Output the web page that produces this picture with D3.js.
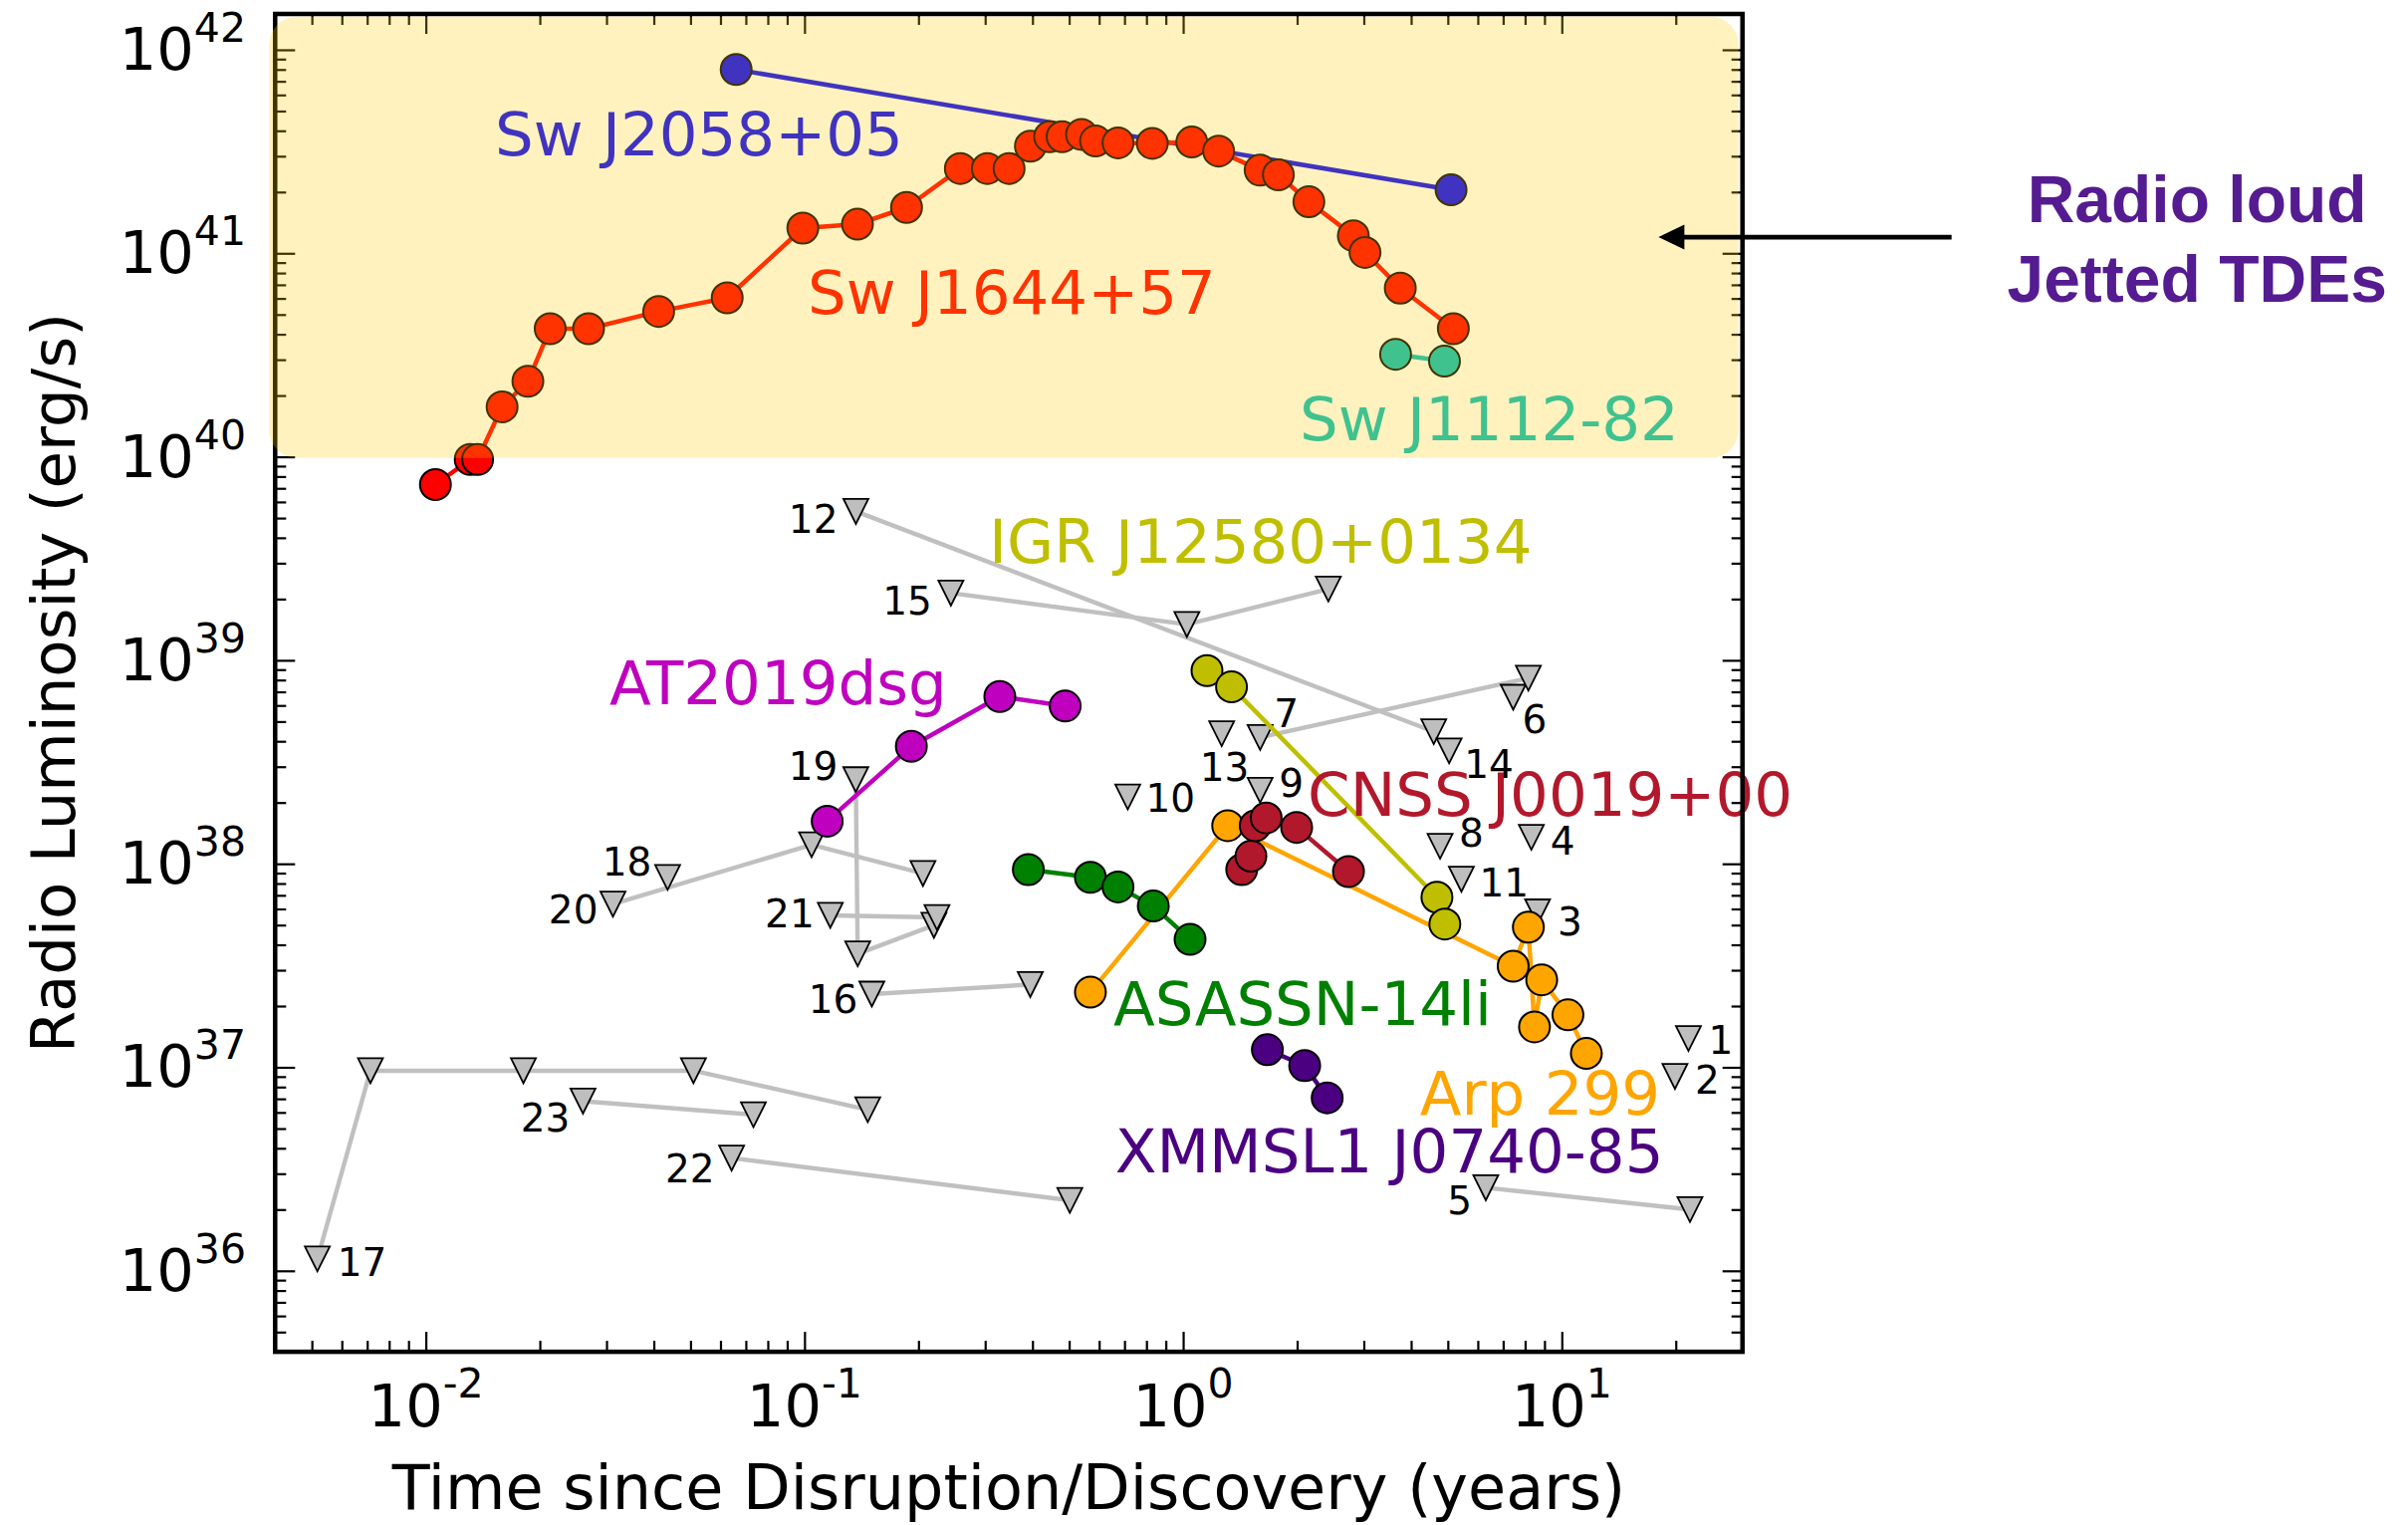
<!DOCTYPE html>
<html><head><meta charset="utf-8">
<script src="https://cdn.jsdelivr.net/npm/d3@7"></script>
<style>html,body{margin:0;padding:0;background:#fff;} svg{display:block;}</style>
</head><body>
<svg id="chart" width="2418" height="1531"></svg>
<script>
// ---------------- DATA ----------------
// Detected (radio-bright) TDEs: time since disruption (yr) and radio luminosity (erg/s)
const detNames = ["Sw J2058+05","Sw J1644+57","Sw J1112-82","Arp 299","ASASSN-14li","IGR J12580+0134","CNSS J0019+00","AT2019dsg","XMMSL1 J0740-85"];
const detTimes = [
  [0.066, 5.10],
  [0.0106,0.0131,0.0137,0.0159,0.0186,0.0213,0.0269,0.0412,0.0625,0.099,0.138,0.186,0.258,0.304,0.347,0.395,0.444,0.479,0.539,0.587,0.673,0.829,1.054,1.241,1.597,1.784,2.148,2.815,3.022,3.745,5.171],
  [3.64, 4.90],
  [0.569, 1.311, 7.44, 8.16, 8.47, 8.85, 10.38, 11.61],
  [0.390, 0.569, 0.673, 0.834, 1.043],
  [1.156, 1.342, 4.68, 4.91],
  [1.428, 1.510, 1.550, 1.657, 1.994, 2.733],
  [0.1148, 0.1915, 0.328, 0.488],
  [1.669, 2.094, 2.401]
];
const detLums = [
  [8.0e41, 2.05e41],
  [7.3e39,9.7e39,9.7e39,1.76e40,2.35e40,4.26e40,4.26e40,5.18e40,6.04e40,1.33e41,1.39e41,1.68e41,2.61e41,2.61e41,2.61e41,3.36e41,3.74e41,3.74e41,3.84e41,3.56e41,3.49e41,3.47e41,3.52e41,3.18e41,2.56e41,2.43e41,1.79e41,1.22e41,1.01e41,6.74e40,4.26e40],
  [3.19e40, 2.95e40],
  [2.34e37, 1.54e38, 3.14e37, 4.88e37, 1.58e37, 2.69e37, 1.81e37, 1.17e37],
  [9.37e37, 8.58e37, 7.70e37, 6.20e37, 4.25e37],
  [8.9e38, 7.4e38, 6.85e37, 5.06e37],
  [9.37e37, 1.09e38, 1.54e38, 1.68e38, 1.51e38, 9.16e37],
  [1.62e38, 3.78e38, 6.64e38, 5.96e38],
  [1.22e37, 1.02e37, 7.08e36]
];
// Upper limits (numbered sources)
const limitIds = ["1","2","3","4","5","6","7","8","9","10","11","12","13","14","15","16","17","18","19","20","21","22","23"];
const limitTimes = [
  [21.6],[19.9],[8.63],[8.31],[6.30,21.8],[7.44],[1.597,8.16],[4.77],[1.597],[0.714],[5.43],
  [0.1367,4.59],[1.264],[5.04],[0.2436,1.023,2.418],[0.1506,0.3947],
  [0.00517,0.00714,0.0181,0.0509,0.1469],[0.0435],[0.1366,0.1382,0.2197],
  [0.0312,0.1044,0.2055],[0.117,0.2238],[0.0642,0.502],[0.0260,0.0733]
];
const limitLums = [
  [1.385e37],[9.02e36],[5.8e37],[1.35e38],[2.56e36,2.0e36],[6.58e38],[4.18e38,8.17e38],[1.22e38],[2.30e38],[2.13e38],[8.40e37],
  [5.39e39,4.46e38],[4.36e38],[3.59e38],[2.14e39,1.50e39,2.24e39],[2.29e37,2.55e37],
  [1.145e36,9.62e36,9.62e36,9.62e36,6.19e36],[8.58e37],[2.59e38,3.61e37,4.99e37],
  [6.34e37,1.24e38,8.96e37],[5.58e37,5.45e37],[3.58e36,2.22e36],[6.82e36,5.85e36]
];
const xMajorExp = [-2,-1,0,1];
const yMajorExp = [36,37,38,39,40,41,42];
const xLabel = "Time since Disruption/Discovery (years)";
const yLabel = "Radio Luminosity (erg/s)";
const calloutLines = ["Radio loud","Jetted TDEs"];

// ---------------- STYLE / LAYOUT ----------------
const detColors = ["#0000ff","#ff0000","#00bfbf","#ffa500","#008000","#bfbf00","#b2182b","#bf00bf","#4b0082"];
// label anchors (data coordinates: time, luminosity), text-anchor start
const labelAnchorT = [0.01522, 0.1019, 2.031, 4.22, 0.6546, 0.307, 2.132, 0.03055, 0.6609];
const labelAnchorL = [3.03e41, 5.05e40, 1.21e40, 5.86e36, 1.61e37, 3.0e39, 1.72e38, 6.08e38, 3.05e36];
// number label offsets relative to first marker (px)
const numOffsets = {
  "1":[20,15,"start"],"2":[20,17,"start"],"3":[20,23,"start"],"4":[19,17,"start"],"5":[-14,27,"end"],
  "6":[9,36,"start"],"7":[14,-10,"start"],"8":[19,0,"start"],"9":[19,7,"start"],"10":[18,15,"start"],
  "11":[18,17,"start"],"12":[-18,22,"end"],"13":[-22,47,"start"],"14":[15,27,"start"],"15":[-19,22,"end"],
  "16":[-14,19,"end"],"17":[20,17,"start"],"18":[-16,-2,"end"],"19":[-18,0,"end"],"20":[-15,19,"end"],
  "21":[-16,12,"end"],"22":[-17,24,"end"],"23":[-13,31,"end"]
};
const FONT = "'DejaVu Sans', sans-serif";

const svg = d3.select("#chart");
const x = d3.scaleLog().domain([0.004, 30]).range([276.3, 1749.7]);
const y = d3.scaleLog().domain([4e35, 1.5e42]).range([1357.1, 14.0]);
const [xl, xr] = x.range(); const [yb, yt] = y.range();

svg.append("rect").attr("width",2418).attr("height",1531).attr("fill","#fff");

// ---------------- TICKS ----------------
function minorVals(scale){
  const [a,b] = scale.domain(); const out=[];
  for(let e=Math.floor(Math.log10(a)); e<=Math.ceil(Math.log10(b)); e++){
    for(let m=2;m<=9;m++){const v=m*Math.pow(10,e); if(v>=a*0.999 && v<=b*1.001) out.push(v);}
  }
  return out;
}
const xMaj = xMajorExp.map(e=>Math.pow(10,e));
const yMaj = yMajorExp.map(e=>Math.pow(10,e));
const xMin = minorVals(x), yMin = minorVals(y);
const axG = svg.append("g");
function addAxis(axisFn, scale, vals, size, tr){
  const g = axG.append("g").attr("transform",tr)
    .call(axisFn(scale).tickValues(vals).tickSizeInner(-size).tickSizeOuter(0).tickFormat(""));
  g.select(".domain").remove();
  g.selectAll(".tick line").attr("stroke","#000").attr("stroke-width",2.2);
}
[[xMaj,20],[xMin,11]].forEach(([v,s])=>{
  addAxis(d3.axisBottom, x, v, s, `translate(0,${yb})`);
  addAxis(d3.axisTop, x, v, s, `translate(0,${yt})`);
});
[[yMaj,20],[yMin,11]].forEach(([v,s])=>{
  addAxis(d3.axisLeft, y, v, s, `translate(${xl},0)`);
  addAxis(d3.axisRight, y, v, s, `translate(${xr},0)`);
});
// tick labels
xMajorExp.forEach(e=>{
  const t = svg.append("text").attr("x",x(Math.pow(10,e))).attr("y",1432)
    .attr("text-anchor","middle").attr("font-family",FONT).attr("font-size",59).attr("fill","#000");
  t.append("tspan").text("10");
  t.append("tspan").attr("dy",-29).attr("font-size",41).text(String(e));
});
yMajorExp.forEach(e=>{
  const t = svg.append("text").attr("x",247).attr("y",y(Math.pow(10,e))+20)
    .attr("text-anchor","end").attr("font-family",FONT).attr("font-size",59).attr("fill","#000");
  t.append("tspan").text("10");
  t.append("tspan").attr("dy",-28).attr("font-size",41).text(String(e));
});
// axis titles
svg.append("text").attr("x",(xl+xr)/2).attr("y",1515).attr("text-anchor","middle")
  .attr("font-family",FONT).attr("font-size",62).text(xLabel);
svg.append("text").attr("transform",`translate(75,${(yb+yt)/2}) rotate(-90)`).attr("text-anchor","middle")
  .attr("font-family",FONT).attr("font-size",61).text(yLabel);

// ---------------- DATA MARKS ----------------
const line = d3.line().x(d=>x(d[0])).y(d=>y(d[1]));
const plotG = svg.append("g");
const tri = "M-12.5,-12.5L12.5,-12.5L0,12.5Z";

// upper limits
limitIds.forEach((id,i)=>{
  const pts = limitTimes[i].map((t,j)=>[t, limitLums[i][j]]);
  if(pts.length>1) plotG.append("path").attr("d",line(pts)).attr("fill","none")
    .attr("stroke","#c0c0c0").attr("stroke-width",4.4).attr("stroke-linejoin","round");
});
limitIds.forEach((id,i)=>{
  const pts = limitTimes[i].map((t,j)=>[t, limitLums[i][j]]);
  pts.forEach(p=>plotG.append("path").attr("d",tri).attr("transform",`translate(${x(p[0])},${y(p[1])})`)
    .attr("fill","#bebebe").attr("stroke","#000").attr("stroke-width",1.8));
  const [dx,dy,anc] = numOffsets[id];
  plotG.append("text").attr("x",x(pts[0][0])+dx).attr("y",y(pts[0][1])+dy)
    .attr("text-anchor",anc).attr("font-family",FONT).attr("font-size",39).attr("fill","#000").text(id);
});
// detections
detNames.forEach((name,i)=>{
  const pts = detTimes[i].map((t,j)=>[t, detLums[i][j]]);
  plotG.append("path").attr("d",line(pts)).attr("fill","none")
    .attr("stroke",detColors[i]).attr("stroke-width",4.5).attr("stroke-linejoin","round");
  pts.forEach(p=>plotG.append("circle").attr("cx",x(p[0])).attr("cy",y(p[1])).attr("r",15.5)
    .attr("fill",detColors[i]).attr("stroke","#000").attr("stroke-width",2));
});
detNames.forEach((name,i)=>{
  plotG.append("text").attr("x",x(labelAnchorT[i])).attr("y",y(labelAnchorL[i]))
    .attr("font-family",FONT).attr("font-size",61).attr("fill",detColors[i]).text(name);
});

// frame
svg.append("rect").attr("x",xl).attr("y",yt).attr("width",xr-xl).attr("height",yb-yt)
  .attr("fill","none").attr("stroke","#000").attr("stroke-width",4.5);

// highlighted jetted region (semi-transparent overlay)
svg.append("rect").attr("x",xl-6).attr("y",yt+2.7).attr("width",(xr-4)-(xl-6))
  .attr("height",y(1e40)+1.2-(yt+2.7)).attr("rx",28).attr("ry",28)
  .attr("fill","#ffcc00").attr("opacity",0.25);

// arrow + callout
const ay = y(1.2e41), tipX = x(18), tailX = x(107);
svg.append("line").attr("x1",tailX).attr("x2",tipX+20).attr("y1",ay).attr("y2",ay)
  .attr("stroke","#000").attr("stroke-width",4.7);
svg.append("path").attr("d",`M${tipX},${ay}L${tipX+26},${ay-12.5}L${tipX+26},${ay+12.5}Z`).attr("fill","#000");
const cx = x(476);
[[calloutLines[0],1.42e41],[calloutLines[1],5.78e40]].forEach(([s,L])=>{
  svg.append("text").attr("x",cx).attr("y",y(L)).attr("text-anchor","middle")
    .attr("font-family","'Liberation Sans', Arial, sans-serif").attr("font-weight","bold")
    .attr("font-size",66).attr("fill","#551b91").text(s);
});
</script>
</body></html>
